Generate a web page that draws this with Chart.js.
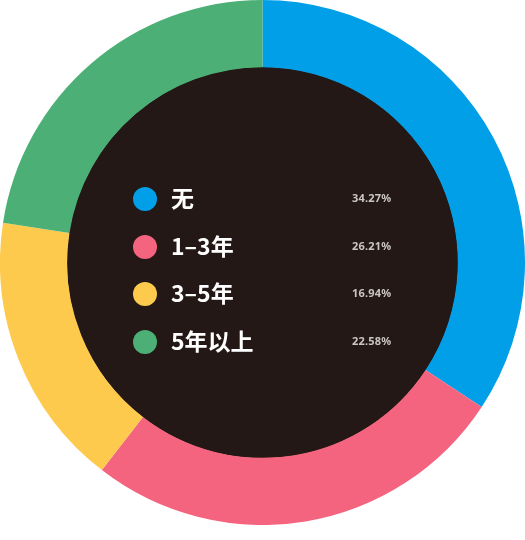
<!DOCTYPE html>
<html>
<head>
<meta charset="utf-8">
<script src="https://cdn.jsdelivr.net/npm/chart.js@4/dist/chart.umd.min.js"></script>
<style>
  html, body { margin: 0; padding: 0; background: #fff; }
  #wrap { position: relative; width: 525px; height: 525px; }
  #legend { position: absolute; left: 133px; top: 175px; width: 270px; }
  .row { position: relative; height: 47.5px; }
  .dot { position: absolute; left: 0; top: 12px; width: 24px; height: 24px; border-radius: 50%; }
  .lbl { position: absolute; left: 38px; top: 7px; color: #fff; font: bold 23px "Noto Sans CJK SC", "Noto Sans", sans-serif; line-height: 30px; }
  .pct { position: absolute; left: 219px; top: 16px; color: #c9c5c4; font: bold 11px "Noto Sans", sans-serif; line-height: 14px; letter-spacing: 0.2px; }
</style>
</head>
<body>
<div id="wrap">
  <canvas id="chart" width="525" height="525"></canvas>
  <div id="legend"></div>
</div>
<script>
const labels = ['无', '1–3年', '3–5年', '5年以上'];
const values = [34.27, 26.21, 16.94, 22.58];
const colors = ['#009FE8', '#F5647F', '#FDCA4D', '#4CAF75'];

// dark disc filling the hole of the ring
const centerFill = {
  id: 'centerFill',
  beforeDatasetsDraw(chart) {
    const arc = chart.getDatasetMeta(0).data[0];
    if (!arc) return;
    const { ctx } = chart;
    ctx.save();
    ctx.fillStyle = '#231815';
    ctx.beginPath();
    ctx.arc(arc.x, arc.y, arc.innerRadius + 0.5, 0, Math.PI * 2);
    ctx.fill();
    ctx.restore();
  }
};

new Chart(document.getElementById('chart'), {
  type: 'doughnut',
  data: {
    labels,
    datasets: [{
      data: values,
      backgroundColor: colors,
      borderWidth: 0,
      hoverOffset: 0
    }]
  },
  options: {
    responsive: false,
    animation: false,
    cutout: '74.4%',
    layout: { padding: 0 },
    plugins: { legend: { display: false }, tooltip: { enabled: false } }
  },
  plugins: [centerFill]
});

document.getElementById('legend').innerHTML = labels.map((l, i) => `
  <div class="row">
    <div class="dot" style="background:${colors[i]}"></div>
    <div class="lbl">${l}</div>
    <div class="pct">${values[i].toFixed(2)}%</div>
  </div>`).join('');
</script>
</body>
</html>
